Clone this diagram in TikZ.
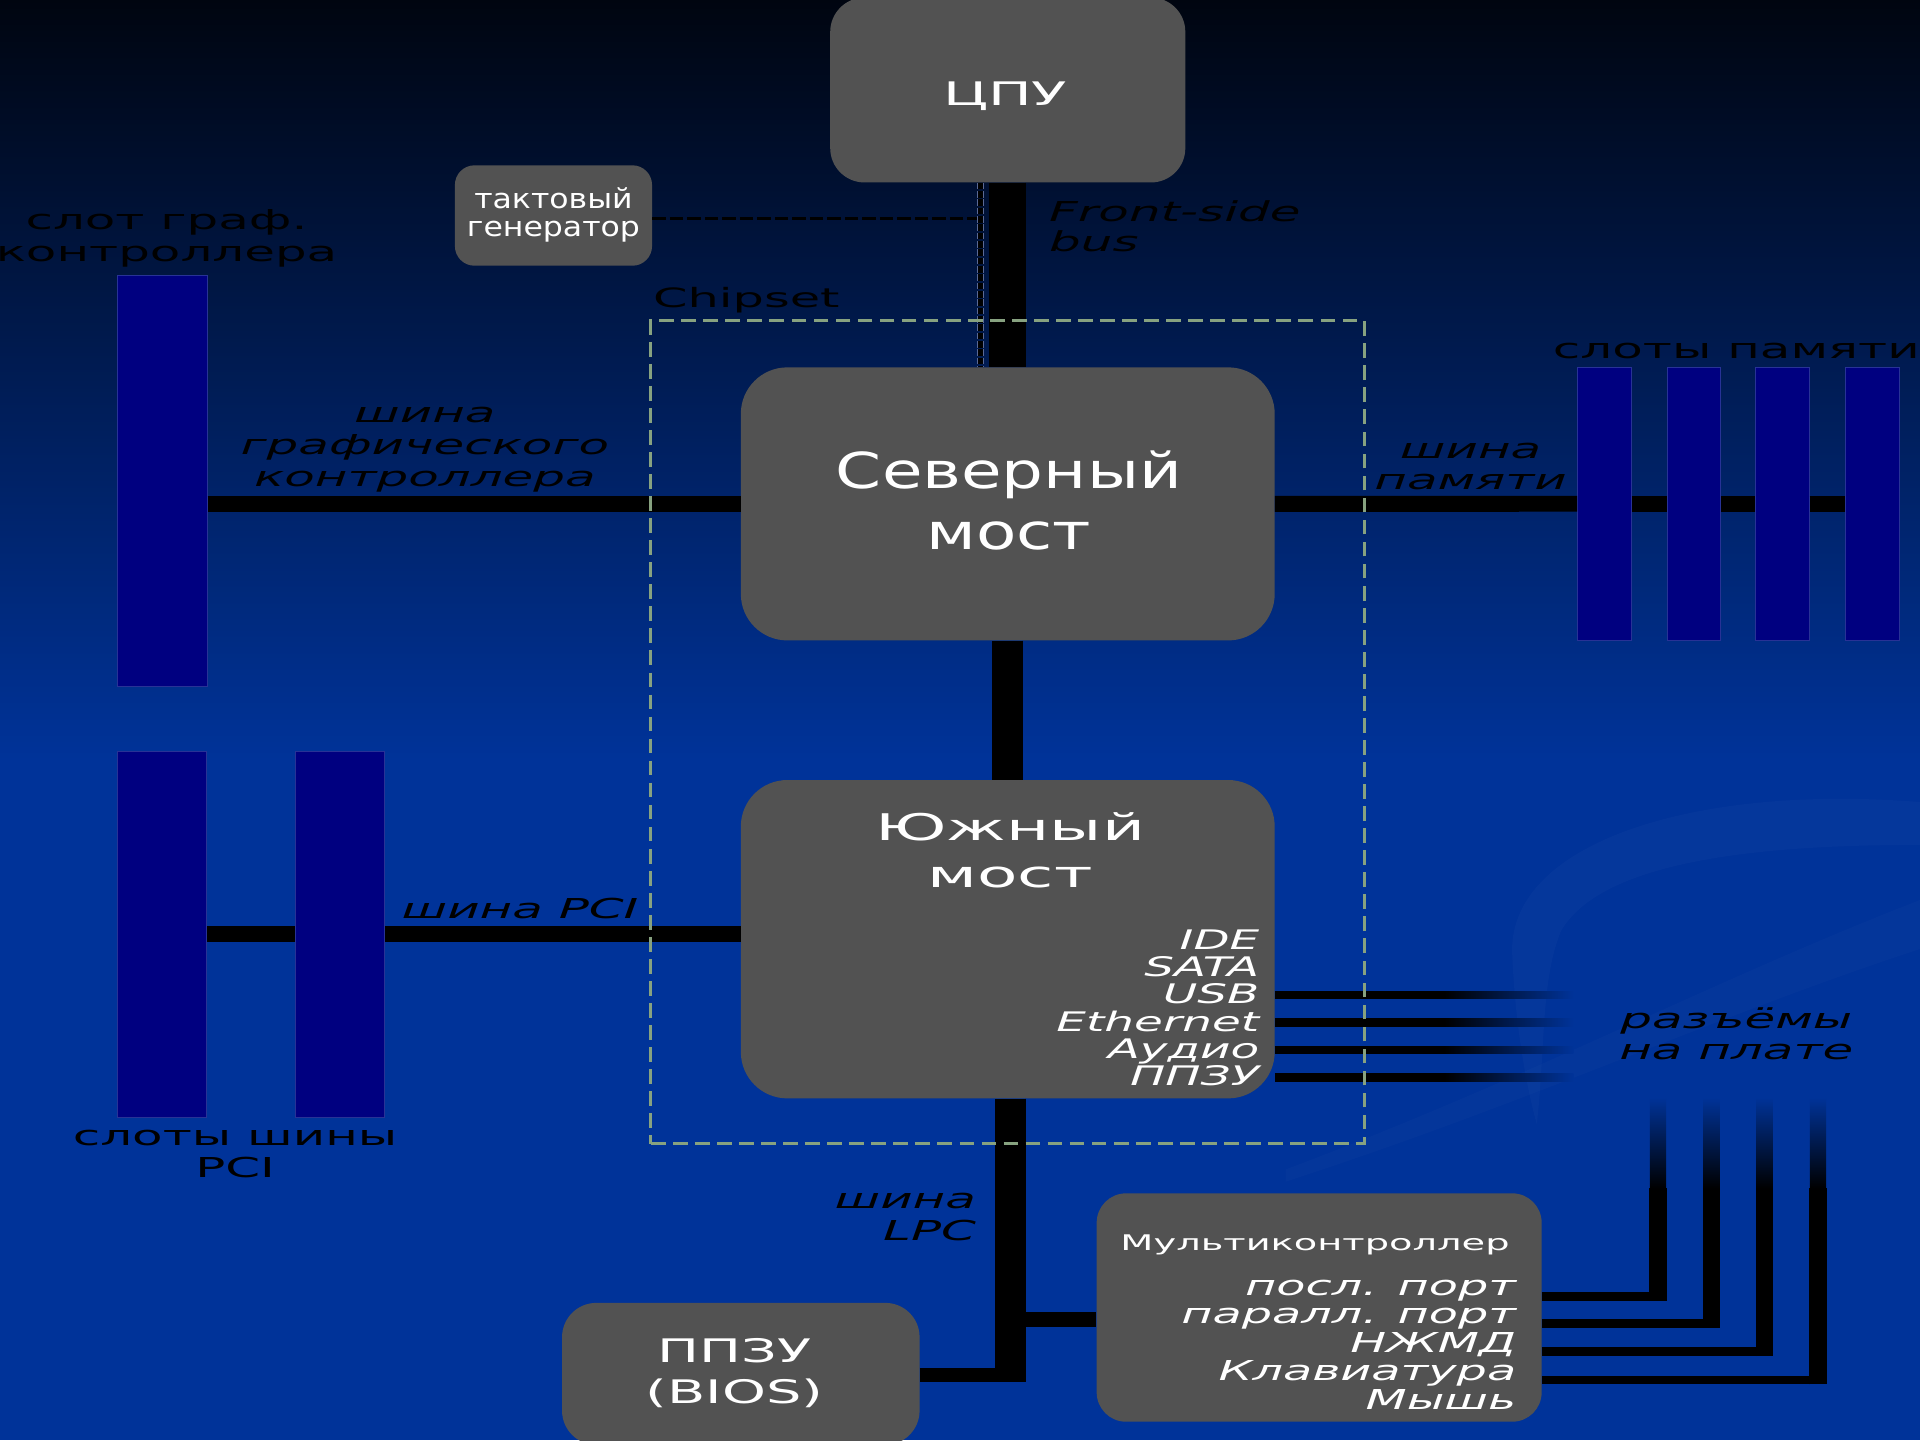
\documentclass[tikz,border=0pt]{standalone}
\usepackage{fontspec}
\setmainfont{DejaVu Sans}
\usetikzlibrary{calc}

\definecolor{bgtop}{RGB}{0,5,16}
\definecolor{bgblue}{RGB}{0,51,153}
\definecolor{chipgray}{RGB}{82,82,82}
\definecolor{slotblue}{RGB}{0,0,128}
\definecolor{slotedge}{RGB}{40,50,150}
\definecolor{chipframe}{RGB}{135,162,128}
\definecolor{dashedge}{RGB}{90,105,150}

\begin{document}
\begin{tikzpicture}[
  x=1pt, y=-1pt,
  chip/.style={rectangle, fill=chipgray, inner sep=0, rounded corners=#1},
  chip/.default=28pt,
  slot/.style={rectangle, fill=slotblue, draw=slotedge, line width=0.8pt, inner sep=0},
  lbl/.style={inner sep=0, text=black, align=center, xscale=#1,
              font=\fontsize{22.4}{26}\selectfont},
  lbl/.default=1.82,
  ilbl/.style={lbl=#1, font=\fontsize{22.4}{26}\selectfont\itshape},
  ilbl/.default=1.82,
  wlbl/.style={inner sep=0, text=white, align=center, xscale=#1},
  wlbl/.default=1.75,
  bus/.style={line width=25pt},
  hbus/.style={line width=13pt},
  wire/.style={line width=7pt},
  vwire/.style={line width=14pt},
  clkline/.style={line width=2pt, dash pattern=on 11pt off 3.3pt},
]
\useasboundingbox (0,0) rectangle (1568,1176);
\clip (0,0) rectangle (1568,1176);

% background
\shade[top color=bgtop, bottom color=bgblue] (0,0) rectangle (1568,621);
\fill[bgblue] (0,620) rectangle (1568,1176);
\fill[white, opacity=0.018] (1568,655) .. controls (1380,640) and (1230,690) .. (1235,780)
  .. controls (1238,850) and (1250,900) .. (1255,918)
  .. controls (1262,860) and (1258,800) .. (1275,760)
  .. controls (1310,700) and (1450,690) .. (1568,690) -- cycle;
\fill[white, opacity=0.015] (1050,955) .. controls (1250,880) and (1400,800) .. (1568,735)
  -- (1568,775) .. controls (1400,830) and (1250,900) .. (1050,965) -- cycle;

% chips
\node[chip, minimum width=290pt, minimum height=151pt] (cpu) at (823,73.5) {};
\node[chip=16pt, minimum width=161pt, minimum height=82pt] (clk) at (452,176) {};
\node[chip=38pt, minimum width=436pt, minimum height=223pt] (nb) at (823,411.5) {};
\node[chip=38pt, minimum width=436pt, minimum height=260pt] (sb) at (823,767) {};
\node[chip=24pt, minimum width=363.4pt, minimum height=186.5pt] (multi) at (1077.3,1067.8) {};
\node[chip, minimum width=292pt, minimum height=116pt] (bios) at (605,1122) {};

% slots
\node[slot, minimum width=73.5pt, minimum height=336.4pt] (agp) at (132.5,392.8) {};
\node[slot, minimum width=73pt, minimum height=299.3pt] (pci1) at (132.5,763) {};
\node[slot, minimum width=73pt, minimum height=299.3pt] (pci2) at (277.7,763) {};
\foreach \x [count=\i] in {1310.3,1383.4,1455.5,1528.9}
  \node[slot, minimum width=44pt, minimum height=223pt] (mem\i) at (\x,411.4) {};

% buses
\draw[line width=30pt] (cpu.south) -- (nb.north);
\draw[bus] (nb.south) -- (sb.north);
\draw[hbus] (agp.east |- nb.west) -- (nb.west);
\draw[hbus] (nb.east) -- (mem1.west);
\foreach \a/\b in {mem1/mem2,mem2/mem3,mem3/mem4}
  \draw[hbus] (\a.east) -- (\b.west);
\draw[hbus] (pci1.east) -- (pci2.west);
\draw[hbus] (pci2.east) -- (pci2.east -| sb.west);

\coordinate (lpcend) at (825,1129);
\draw[bus] (sb.south -| lpcend) -- (lpcend);
\draw[line width=12pt] (bios.east |- 0,1123) -- (lpcend |- 0,1123);
\draw[line width=11.7pt] (lpcend |- 0,1077.5) -- (multi.west |- 0,1077.5);

% connectors on the board
\foreach \y [count=\i] in {812.6,835,857.5,880} {
  \coordinate (sbw\i) at (1180,\y);
  \draw[wire] (sb.east |- sbw\i) -- (sbw\i);
  \shade[left color=black, right color=bgblue] (1179.5,\y-3.2) rectangle (1285,\y+3.2);
}
\foreach \y/\x [count=\i] in {1059/1354,1080.7/1397.6,1103.9/1441.2,1127/1484.7} {
  \coordinate (mcw\i) at (\x,970);
  \draw[wire] (multi.east |- 0,\y) -- (\x+7,\y);
  \draw[vwire] (mcw\i |- 0,\y+3.5) -- (mcw\i);
  \shade[top color=bgblue, bottom color=black] (\x-6.6,896) rectangle (\x+6.6,970.5);
}

% clock line
\coordinate (clkx) at (800.6,0);
\draw[clkline] (clk.east |- 0,178.6) -- (clkx |- 0,178.6);
\draw[line width=6pt, dashedge, dash pattern=on 5.5pt off 1.3pt] (cpu.south -| clkx) -- (nb.north -| clkx);
\draw[line width=3.6pt, black, dash pattern=on 5.5pt off 1.3pt] (cpu.south -| clkx) -- (nb.north -| clkx);

% chipset frame
\node[draw=chipframe, line width=2.5pt, dash pattern=on 12pt off 6pt,
      minimum width=582.4pt, minimum height=672pt, inner sep=0] (chipset) at (822.8,598) {};

% labels (multi-line nodes sit on the baseline of their last line)
\node[lbl, anchor=base] (lagp) at (136,213.7) {слот граф.\\контроллера};
\node[ilbl, anchor=base] (lagpbus) at (347,397) {шина\\графического\\контроллера};
\node[lbl=1.86, anchor=base west, font=\fontsize{21.7}{26}\selectfont] (lchip) at (533,251.5) {Chipset};
\node[ilbl, anchor=base west, align=left, font=\fontsize{22.4}{25}\selectfont\itshape] (lfsb) at (856.5,205.6) {Front-side\\bus};
\node[lbl, anchor=base] (lmem) at (1418,293) {слоты памяти};
\node[ilbl, anchor=base, font=\fontsize{22.4}{25.5}\selectfont\itshape] (lmembus) at (1201,400) {шина\\памяти};
\node[ilbl, anchor=base west] (lpcibus) at (327.6,749.7) {шина PCI};
\node[lbl, anchor=base] (lpci) at (192,961.7) {слоты шины\\PCI};
\node[ilbl, anchor=base, font=\fontsize{22.4}{25.2}\selectfont\itshape] (ljack) at (1418,865) {разъёмы\\на плате};
\node[ilbl, anchor=base east, align=right] (llpc) at (797.4,1013.2) {шина\\LPC};

\node[wlbl=1.79, anchor=base, font=\fontsize{26.5}{30}\selectfont] (tcpu) at (821,86) {ЦПУ};
\node[wlbl=1.15, anchor=base, font=\fontsize{22.4}{23}\selectfont] (tclk) at (452,193) {тактовый\\генератор};
\node[wlbl=1.33, anchor=base, font=\fontsize{40.5}{49.8}\selectfont] (tnb) at (824,448.6) {Северный\\мост};
\node[wlbl=1.8, anchor=base, font=\fontsize{30}{38.4}\selectfont] (tsb) at (825,725) {Южный\\мост};
\node[wlbl=1.74, anchor=base east, align=right, font=\fontsize{22}{22.2}\selectfont\itshape] (tsbio) at (1028.7,886.4)
  {IDE\\SATA\\USB\\Ethernet\\Аудио\\ППЗУ};
\node[wlbl=1.78, anchor=base west, font=\fontsize{17.6}{20}\selectfont] (tmulti) at (914.7,1021.4) {Мультиконтроллер};
\node[wlbl=1.74, anchor=base east, align=right, font=\fontsize{22.4}{23.3}\selectfont\itshape] (tmio) at (1238.6,1150.8)
  {посл. порт\\паралл. порт\\НЖМД\\Клавиатура\\Мышь};
\node[wlbl=1.72, anchor=base, font=\fontsize{26.5}{32.8}\selectfont] (tbios) at (600,1145.8) {ППЗУ\\(BIOS)};
\end{tikzpicture}
\end{document}
